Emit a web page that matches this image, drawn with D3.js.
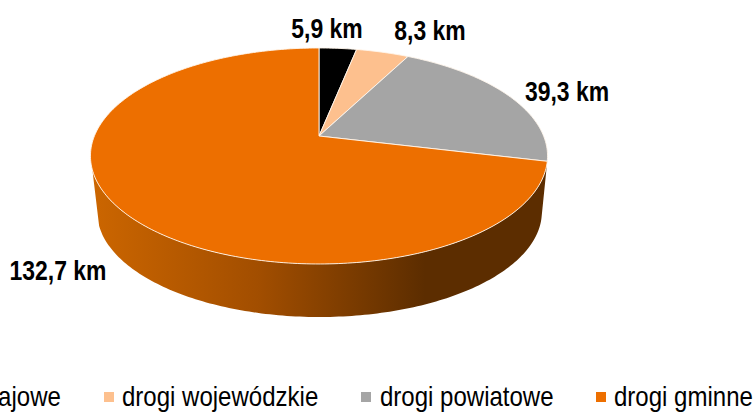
<!DOCTYPE html>
<html><head><meta charset="utf-8">
<style>html,body{margin:0;padding:0;background:#fff;overflow:hidden}svg{display:block}</style>
<script src="https://cdn.jsdelivr.net/npm/d3@7"></script></head>
<body><svg id="c" width="755" height="412"></svg>
<script>
const categories=["drogi krajowe","drogi wojewódzkie","drogi powiatowe","drogi gminne"];
const values=[5.9,8.3,39.3,132.7];
const labels=["5,9 km","8,3 km","39,3 km","132,7 km"];
const colors=["#000000","#FDC08E","#A5A5A5","#ED6F00"];
const labelX=[327,430,567,58], labelY=[38,40,101,280];
const legendX=[-82,122,380,614], markerX=[-98,104,361,596];

const svg=d3.select("#c");
const k=0.185;
const proj=(a,cx,cy,rx,ry)=>{const u=Math.sin(a),v=Math.cos(a),d=1+k*v;return [cx+rx*u/d,cy-ry*v/d];};
const topRim=a=>proj(a,319,136,224.6,104.3);
const botRim=a=>proj(a,319.5,192.6,218.5,101.4);
const pie=d3.pie().sort(null).value(d=>d)(values);

const deg=Math.PI/180;
const defs=svg.append("defs");
const g=defs.append("linearGradient").attr("id","side").attr("gradientUnits","userSpaceOnUse")
  .attr("x1",91).attr("x2",425).attr("y1",0).attr("y2",0);
g.append("stop").attr("offset",0).attr("stop-color","#CC6600");
g.append("stop").attr("offset",0.5).attr("stop-color","#A24E00");
g.append("stop").attr("offset",1).attr("stop-color","#5C2D00");

const line=d3.line();
const range=(a0,a1,n=160)=>d3.range(n+1).map(i=>a0+(a1-a0)*i/n);
const last=pie[pie.length-1];
const sA=range(last.startAngle,252*deg);
svg.append("path").attr("d",line(sA.map(topRim).concat(sA.slice().reverse().map(botRim)))+"Z")
  .attr("fill","url(#side)");

svg.selectAll("path.slice").data(pie).join("path").attr("class","slice")
  .attr("d",d=>{
    const n=Math.max(8,Math.ceil((d.endAngle-d.startAngle)*60));
    return line([[319,136]].concat(range(d.startAngle,d.endAngle,n).map(topRim)))+"Z";
  })
  .attr("fill",(d,i)=>colors[i])
  .attr("stroke","#FFF6EC").attr("stroke-width",0.9).attr("stroke-linejoin","round");

svg.selectAll("text.lab").data(labels).join("text").attr("class","lab")
  .attr("transform",(d,i)=>`translate(${labelX[i]},${labelY[i]}) scale(0.85,1)`)
  .attr("text-anchor","middle")
  .attr("font-family","'Liberation Sans',sans-serif")
  .attr("font-weight","bold").attr("font-size",27).attr("fill","#000").text(d=>d);

svg.selectAll("rect.m").data(categories).join("rect").attr("class","m")
  .attr("x",(d,i)=>markerX[i]).attr("y",392).attr("width",10).attr("height",10)
  .attr("fill",(d,i)=>colors[i]);
svg.selectAll("text.leg").data(categories).join("text").attr("class","leg")
  .attr("transform",(d,i)=>`translate(${legendX[i]},406) scale(0.89,1)`)
  .attr("font-family","'Liberation Sans',sans-serif")
  .attr("font-size",27).attr("fill","#000").text(d=>d);
</script></body></html>
